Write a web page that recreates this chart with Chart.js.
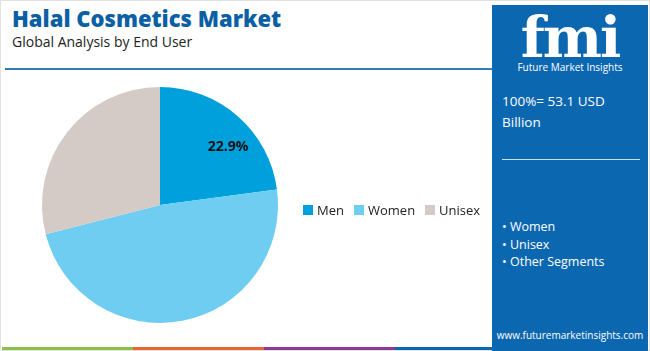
<!DOCTYPE html>
<html>
<head>
<meta charset="utf-8">
<script src="https://cdn.jsdelivr.net/npm/chart.js@4.4.1/dist/chart.umd.min.js"></script>
<style>
  html, body { margin: 0; padding: 0; }
  body { width: 650px; height: 351px; position: relative; overflow: hidden; background: #fff; font-family: "Open Sans", "Noto Sans", sans-serif; }
  #frame { position: absolute; left: 0; top: 0; width: 648px; height: 349px; border: 1px solid #e2e2e2; }
  #title { position: absolute; left: 12px; top: 3px; font-size: 22px; font-weight: 800; color: #0b5fa3; }
  #subtitle { position: absolute; left: 12px; top: 32px; font-size: 14px; color: #222; }
  #rule { position: absolute; left: 5px; top: 68px; width: 488px; height: 2px; background: #2f7dbd; }
  #pieBox { position: absolute; left: 0; top: 80px; width: 320px; height: 250px; }
  #legend { position: absolute; left: 303px; top: 201px; display: flex; font-size: 13px; color: #222; }
  #legend span.item { display: flex; align-items: center; margin-right: 10px; }
  #legend span.box { width: 10px; height: 10px; margin-right: 4px; display: inline-block; }
  #panel { position: absolute; left: 492px; top: 5px; width: 156px; height: 346px; background: #0c67b1; color: #fff; }
  #logo { position: absolute; left: 0; width: 156px; text-align: center; font-family: "DejaVu Serif", serif; font-weight: bold; font-size: 56px; line-height: 56px; top: 4px; letter-spacing: -2px; }
  #logoSub { position: absolute; left: 0; width: 156px; top: 55px; text-align: center; font-size: 10px; }
  #total { position: absolute; left: 10px; top: 86px; font-size: 13.5px; line-height: 21px; }
  #panelRule { position: absolute; left: 10px; top: 154px; width: 138px; height: 1px; background: #cfe0ef; }
  #segs { position: absolute; left: 10px; top: 213px; font-size: 12.5px; line-height: 17.5px; }
  #url { position: absolute; left: 0; width: 156px; text-align: center; top: 323px; font-size: 10px; }
  .stripe { position: absolute; top: 347px; height: 3px; }
</style>
</head>
<body>
<div id="frame"></div>
<div id="title">Halal Cosmetics Market</div>
<div id="subtitle">Global Analysis by End User</div>
<div id="rule"></div>
<div id="pieBox"><canvas id="pie"></canvas></div>
<div id="legend"></div>
<div class="stripe" style="left:2px;width:131px;background:#8cc04a"></div>
<div class="stripe" style="left:133px;width:131px;background:#e9642f"></div>
<div class="stripe" style="left:264px;width:131px;background:#8e3a93"></div>
<div class="stripe" style="left:395px;width:97px;background:#0c67b1"></div>
<div id="panel">
  <div id="logo">fmi</div>
  <div id="logoSub">Future Market Insights</div>
  <div id="total">100%= 53.1 USD<br>Billion</div>
  <div id="panelRule"></div>
  <div id="segs">• Women<br>• Unisex<br>• Other Segments</div>
  <div id="url">www.futuremarketinsights.com</div>
</div>
<script>
// end user segments, share of market in percent
var categories = ["Men", "Women", "Unisex"];
var shares = [22.9, 48.1, 29.0];
var sliceColors = ["#00a0dc", "#6fcdf1", "#d4cbc7"];
var shownLabels = [true, false, false];

// writes the percent value inside the slices that show one
var sliceLabels = {
  id: 'sliceLabels',
  afterDatasetsDraw: function(chart) {
    var ctx = chart.ctx;
    var meta = chart.getDatasetMeta(0);
    ctx.save();
    ctx.font = "bold 14px 'Open Sans', sans-serif";
    ctx.fillStyle = "#111";
    ctx.textAlign = "center";
    ctx.textBaseline = "middle";
    meta.data.forEach(function(arc, i) {
      if (!shownLabels[i]) return;
      // label sits a bit past the middle of the slice
      var mid = arc.startAngle + (arc.endAngle - arc.startAngle) * 0.6;
      var r = arc.outerRadius * 0.76;
      ctx.fillText(shares[i].toFixed(1) + "%", arc.x + Math.cos(mid) * r, arc.y + Math.sin(mid) * r);
    });
    ctx.restore();
  }
};

var chart = new Chart(document.getElementById('pie'), {
  type: 'pie',
  data: {
    labels: categories,
    datasets: [{
      data: shares,
      backgroundColor: sliceColors,
      borderWidth: 0
    }]
  },
  options: {
    responsive: true,
    maintainAspectRatio: false,
    animation: false,
    layout: { padding: 7 },
    plugins: {
      legend: { display: false },
      tooltip: { enabled: false }
    }
  },
  plugins: [sliceLabels]
});

// html legend built from the chart's own legend items
var legendEl = document.getElementById('legend');
chart.options.plugins.legend.labels.generateLabels(chart).forEach(function(item) {
  var span = document.createElement('span');
  span.className = 'item';
  var box = document.createElement('span');
  box.className = 'box';
  box.style.background = item.fillStyle;
  span.appendChild(box);
  span.appendChild(document.createTextNode(item.text));
  legendEl.appendChild(span);
});
</script>
</body>
</html>
